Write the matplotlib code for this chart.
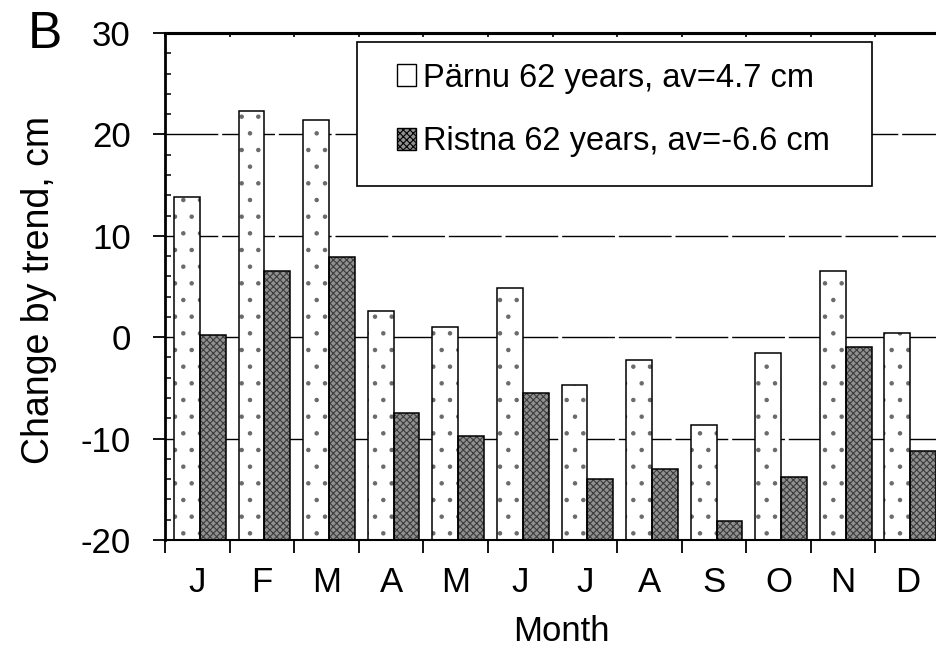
import numpy as np
import matplotlib
matplotlib.use("Agg")
import matplotlib.pyplot as plt
from matplotlib.patches import Patch, Rectangle
from matplotlib.ticker import MultipleLocator, FixedLocator

# monthly change by linear trend, cm
months = ["J", "F", "M", "A", "M", "J", "J", "A", "S", "O", "N", "D"]
parnu = [13.8, 22.3, 21.4, 2.6, 1.0, 4.9, -4.7, -2.2, -8.7, -1.6, 6.5, 0.4]
ristna = [0.2, 6.5, 7.9, -7.5, -9.7, -5.5, -14.0, -13.0, -18.1, -13.8, -1.0, -11.2]
parnu_label = "Pärnu 62 years, av=4.7 cm"
ristna_label = "Ristna 62 years, av=-6.6 cm"

plt.rcParams['font.family'] = ['Liberation Sans', 'DejaVu Sans']
plt.rcParams['axes.unicode_minus'] = False
plt.rcParams['hatch.linewidth'] = 0.8

base = -20
grey = '#909090'

fig = plt.figure(figsize=(9.36, 6.55), dpi=100)
ax = fig.add_axes([0.1763, 0.1756, 0.828, 0.774])

x = np.arange(len(months))
w = 0.4
shift = 0.04

# hatched fills first (hatch takes the edge colour), black outlines on top
ax.bar(x - w / 2 + shift, np.array(parnu) - base, w, bottom=base,
       facecolor='white', edgecolor='#6a6a6a', linewidth=0, hatch='.', zorder=2)
ax.bar(x - w / 2 + shift, np.array(parnu) - base, w, bottom=base,
       fill=False, edgecolor='black', linewidth=1.1, zorder=3)
ax.bar(x + w / 2 + shift, np.array(ristna) - base, w, bottom=base,
       facecolor=grey, edgecolor='#3c3c3c', linewidth=0, hatch='xxxxx', zorder=2)
ax.bar(x + w / 2 + shift, np.array(ristna) - base, w, bottom=base,
       fill=False, edgecolor='black', linewidth=1.1, zorder=3)

ax.set_xlim(-0.5, 11.5)
ax.set_ylim(-20, 30)

ax.yaxis.set_major_locator(MultipleLocator(10))
ax.yaxis.set_minor_locator(MultipleLocator(2))
ax.tick_params(axis='y', which='major', direction='out', length=8.6, width=1.3,
               labelsize=25, pad=16)
ax.tick_params(axis='y', which='minor', direction='in', length=4, width=1.1)

edges = np.arange(-0.5, 12, 1)
ax.xaxis.set_major_locator(FixedLocator(edges))
ax.xaxis.set_minor_locator(FixedLocator(x))
ax.set_xticklabels([])
ax.set_xticks(x, months, minor=True)
ax.tick_params(axis='x', which='major', direction='out', length=9, width=1.3)
ax.tick_params(axis='x', which='minor', length=0, labelsize=25, pad=19)

top = ax.secondary_xaxis('top')
top.set_xticks(edges)
top.tick_params(direction='in', length=3, width=1.2, labeltop=False)
top.spines['top'].set_linewidth(2.2)

ax.spines['top'].set_linewidth(2.2)
ax.spines['left'].set_linewidth(2.0)
ax.spines['bottom'].set_linewidth(1.5)
ax.spines['right'].set_visible(False)

ax.set_axisbelow(True)
ax.yaxis.grid(True, which='major', color='black', linewidth=1.0,
              linestyle=(0, (38, 2.8)))

ax.set_ylabel("Change by trend, cm", fontsize=27)
ax.yaxis.set_label_coords(-0.139, 0.493)
ax.set_xlabel("Month", fontsize=25)
ax.xaxis.set_label_coords(0.511, -0.148)

# legend box
ax.add_patch(Rectangle((0.2477, 0.6982), 0.6645, 0.284, transform=ax.transAxes,
                       facecolor='white', edgecolor='black', linewidth=1.2,
                       zorder=4))
handles = [Patch(facecolor='white', edgecolor='black', linewidth=1.0),
           Patch(facecolor=grey, edgecolor='black', hatch='xxxxx', linewidth=1.0)]
leg = ax.legend(handles, [parnu_label, ristna_label], loc='upper left',
                bbox_to_anchor=(0.2994, 0.9418), borderaxespad=0, borderpad=0,
                frameon=False, fontsize=23.5, handlelength=0.58,
                handleheight=0.67, handletextpad=0.2, labelspacing=1.0)
leg.set_zorder(5)

fig.text(0.03, 0.927, "B", fontsize=37, ha='left', va='baseline')

fig.savefig("out.png", dpi=100)
